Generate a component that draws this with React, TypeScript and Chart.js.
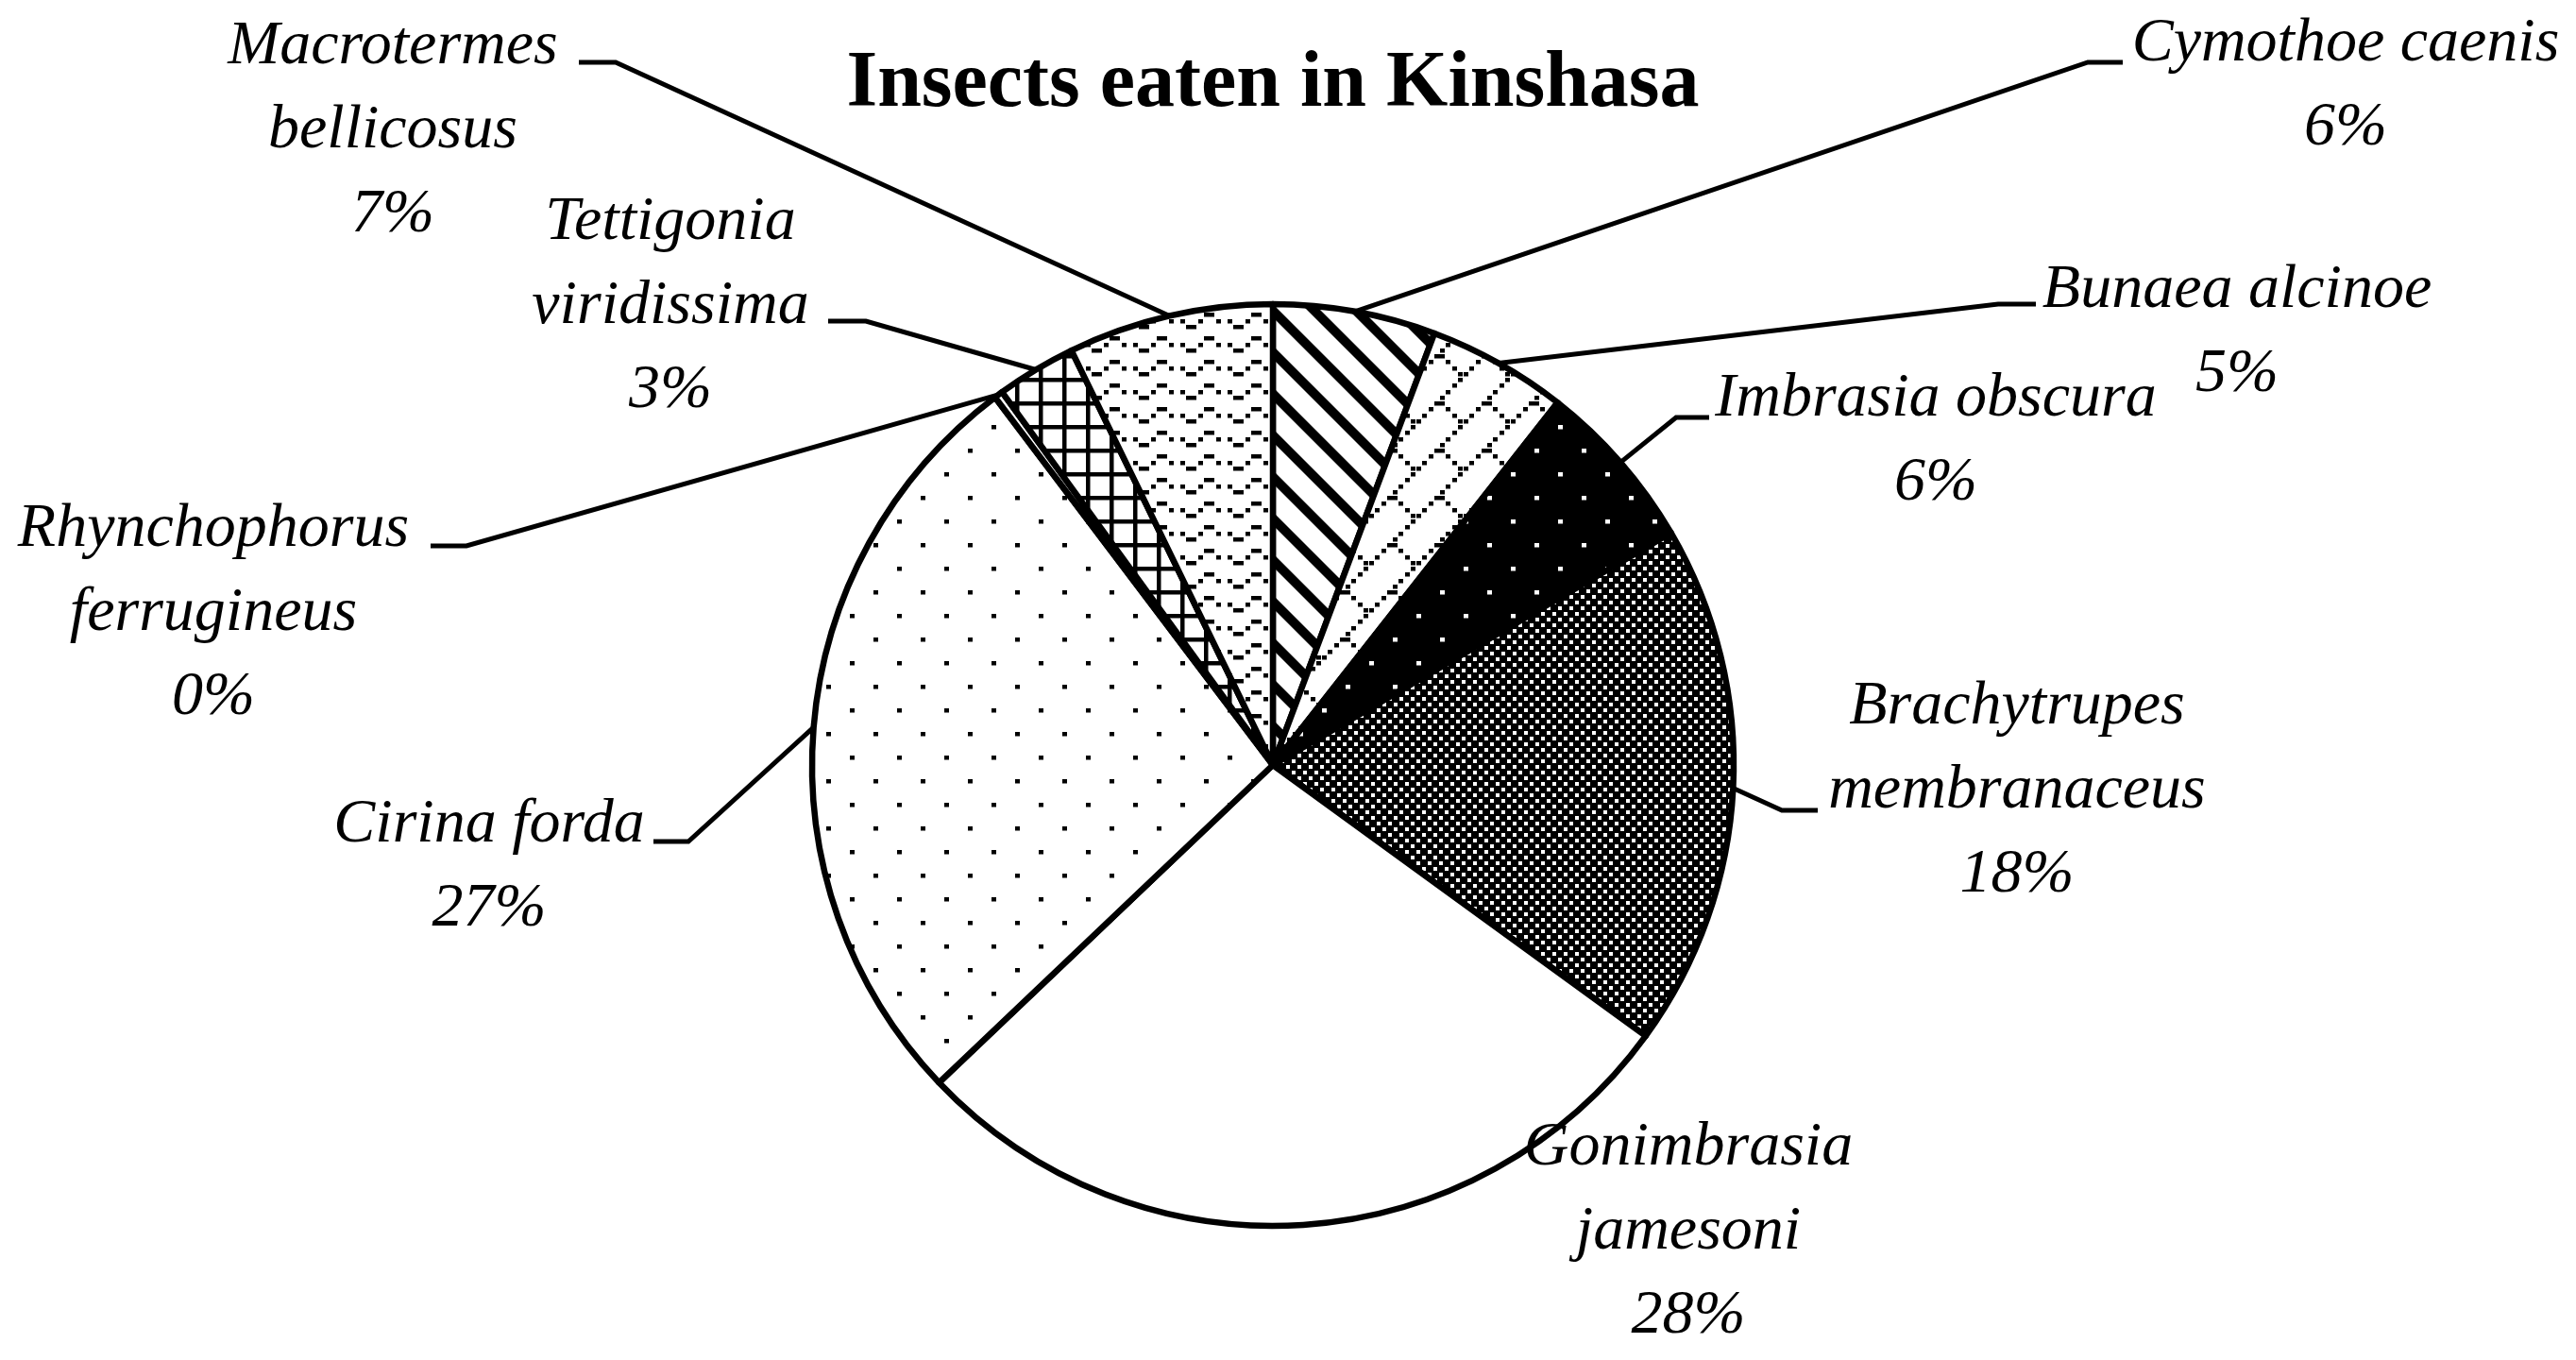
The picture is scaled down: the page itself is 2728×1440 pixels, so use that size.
import React, { useEffect, useRef } from 'react';
import { Chart, registerables } from 'chart.js';

Chart.register(...registerables);

const W = 2728;
const H = 1440;

// ---- data ----
const TITLE = 'Insects eaten in Kinshasa';
const SPECIES = [
  'Cymothoe caenis',
  'Bunaea alcinoe',
  'Imbrasia obscura',
  'Brachytrupes membranaceus',
  'Gonimbrasia jamesoni',
  'Cirina forda',
  'Rhynchophorus ferrugineus',
  'Tettigonia viridissima',
  'Macrotermes bellicosus',
];
const SHARES = [5.7, 4.9, 6.0, 18.4, 27.9, 26.8, 0.3, 2.8, 7.2];
const FILLS = ['wideDownDiagonal', 'diagonalBrick', 'darkDots', 'finePlaid', 'white', 'lightDots', 'white', 'smallGrid', 'wave'];

// ---- layout of the data labels (positions only) ----
type Lay = { cx: number; y: number; wrap: boolean; elbow?: [number, number]; end?: [number, number] };
const LABEL_LAYOUT: Lay[] = [
  { cx: 2484, y: 64, wrap: false, elbow: [2211, 66], end: [2248, 66] },
  { cx: 2369, y: 325, wrap: false, elbow: [2116, 322], end: [2156, 322] },
  { cx: 2050, y: 440, wrap: false, elbow: [1775, 442], end: [1810, 442] },
  { cx: 2136, y: 766, wrap: true, elbow: [1887, 858], end: [1925, 858] },
  { cx: 1788, y: 1233, wrap: true },
  { cx: 518, y: 891, wrap: false, elbow: [729, 891], end: [692, 891] },
  { cx: 226, y: 578, wrap: true, elbow: [494, 578], end: [456, 578] },
  { cx: 710, y: 253, wrap: true, elbow: [917, 340], end: [877, 340] },
  { cx: 416, y: 67, wrap: true, elbow: [652, 66], end: [613, 66] },
];
const LINE_GAP = 89;
const LABEL_FONT = 'italic 66px "Liberation Serif", "Times New Roman", serif';
const TITLE_FONT = 'bold 84px "Liberation Serif", "Times New Roman", serif';

// ---- pattern helpers ----
const BITMAPS: Record<string, string[]> = {
  lightDots: ['X.......', '........', '........', '........', '....X...', '........', '........', '........'],
  wave: ['........', '....XX..', 'X..X..X.', '.XX.....', '........', '....XX..', 'X..X..X.', '.XX.....'],
  diagonalBrick: ['.......X', '......X.', '.....X..', '....X...', '...XX...', '..X..X..', '.X....X.', 'X......X'],
};

function tile(size: number, draw: (c: CanvasRenderingContext2D) => void): CanvasPattern | string {
  const cv = document.createElement('canvas');
  cv.width = size;
  cv.height = size;
  const c = cv.getContext('2d');
  if (!c) return '#fff';
  c.fillStyle = '#fff';
  c.fillRect(0, 0, size, size);
  draw(c);
  const p = c.createPattern(cv, 'repeat');
  return p || '#fff';
}

function bitmapTile(rows: string[], fg: string, bg: string) {
  const s = 6.25;
  const d = 4.5;
  return tile(50, (c) => {
    c.fillStyle = bg;
    c.fillRect(0, 0, 50, 50);
    c.fillStyle = fg;
    rows.forEach((row, y) => {
      let x = 0;
      while (x < row.length) {
        if (row[x] === 'X') {
          let x1 = x;
          while (x1 + 1 < row.length && row[x1 + 1] === 'X') x1++;
          c.fillRect(Math.round(x * s), Math.round(y * s), Math.round((x1 - x) * s + d), d);
          x = x1 + 1;
        } else x++;
      }
    });
  });
}

function makeFill(kind: string): CanvasPattern | string {
  switch (kind) {
    case 'lightDots':
    case 'wave':
    case 'diagonalBrick':
      return bitmapTile(BITMAPS[kind], '#000', '#fff');
    case 'darkDots':
      return bitmapTile(BITMAPS.lightDots, '#fff', '#000');
    case 'wideDownDiagonal':
      return tile(44, (c) => {
        c.fillStyle = '#000';
        for (const k of [-44, 0, 44]) {
          c.beginPath();
          c.moveTo(k, 0);
          c.lineTo(k + 14, 0);
          c.lineTo(k + 58, 44);
          c.lineTo(k + 44, 44);
          c.closePath();
          c.fill();
        }
      });
    case 'smallGrid':
      return tile(25, (c) => {
        c.fillStyle = '#000';
        c.fillRect(0, 0, 25, 4.5);
        c.fillRect(0, 0, 4.5, 25);
      });
    case 'finePlaid':
      return tile(12, (c) => {
        c.fillStyle = '#000';
        c.fillRect(0, 0, 12, 12);
        c.fillStyle = '#fff';
        c.fillRect(0, 0, 4, 4);
        c.fillRect(6, 6, 4, 4);
      });
    default:
      return '#fff';
  }
}

const labelPlugin = {
  id: 'pieLabels',
  beforeDraw(chart: any) {
    const ctx = chart.ctx;
    ctx.save();
    ctx.fillStyle = '#fff';
    ctx.fillRect(0, 0, chart.width, chart.height);
    ctx.restore();
  },
  afterDraw(chart: any) {
    const ctx: CanvasRenderingContext2D = chart.ctx;
    const meta = chart.getDatasetMeta(0);
    ctx.save();
    // title
    ctx.fillStyle = '#000';
    ctx.font = TITLE_FONT;
    ctx.textAlign = 'center';
    ctx.textBaseline = 'alphabetic';
    ctx.fillText(TITLE, 1348, 112);

    meta.data.forEach((arc: any, i: number) => {
      const lay = LABEL_LAYOUT[i];
      const p = arc.getProps(['x', 'y', 'startAngle', 'endAngle', 'outerRadius'], true);
      const mid = (p.startAngle + p.endAngle) / 2;
      const ex = p.x + Math.cos(mid) * p.outerRadius;
      const ey = p.y + Math.sin(mid) * p.outerRadius;
      if (lay.elbow && lay.end) {
        ctx.strokeStyle = '#000';
        ctx.lineWidth = 5;
        ctx.lineJoin = 'miter';
        ctx.beginPath();
        ctx.moveTo(ex, ey);
        ctx.lineTo(lay.elbow[0], lay.elbow[1]);
        ctx.lineTo(lay.end[0], lay.end[1]);
        ctx.stroke();
      }
      const name = SPECIES[i];
      let lines: string[];
      if (lay.wrap) {
        const k = name.indexOf(' ');
        lines = [name.slice(0, k), name.slice(k + 1)];
      } else lines = [name];
      lines.push(`${Math.round(SHARES[i])}%`);
      ctx.font = LABEL_FONT;
      ctx.fillStyle = '#000';
      ctx.textAlign = 'center';
      lines.forEach((t, j) => ctx.fillText(t, lay.cx, lay.y + j * LINE_GAP));
    });
    ctx.restore();
  },
};

export default function App() {
  const ref = useRef<HTMLCanvasElement | null>(null);
  useEffect(() => {
    const canvas = ref.current;
    if (!canvas) return;
    document.body.style.margin = '0';
    const chart = new Chart(canvas, {
      type: 'pie',
      data: {
        labels: SPECIES,
        datasets: [
          {
            data: SHARES,
            backgroundColor: FILLS.map(makeFill) as any,
            borderColor: '#000',
            borderWidth: 6.5,
            borderJoinStyle: 'round',
          } as any,
        ],
      },
      options: {
        responsive: false,
        maintainAspectRatio: false,
        devicePixelRatio: 1,
        animation: false,
        events: [],
        radius: 488,
        layout: { padding: { left: 0, right: 32, top: 180, bottom: 0 } },
        plugins: {
          legend: { display: false },
          title: { display: false },
          tooltip: { enabled: false },
        },
      } as any,
      plugins: [labelPlugin],
    });
    return () => chart.destroy();
  }, []);
  return (
    <div style={{ position: 'fixed', left: 0, top: 0, width: W, height: H, background: '#fff' }}>
      <canvas ref={ref} width={W} height={H} style={{ width: W, height: H, display: 'block' }} />
    </div>
  );
}
